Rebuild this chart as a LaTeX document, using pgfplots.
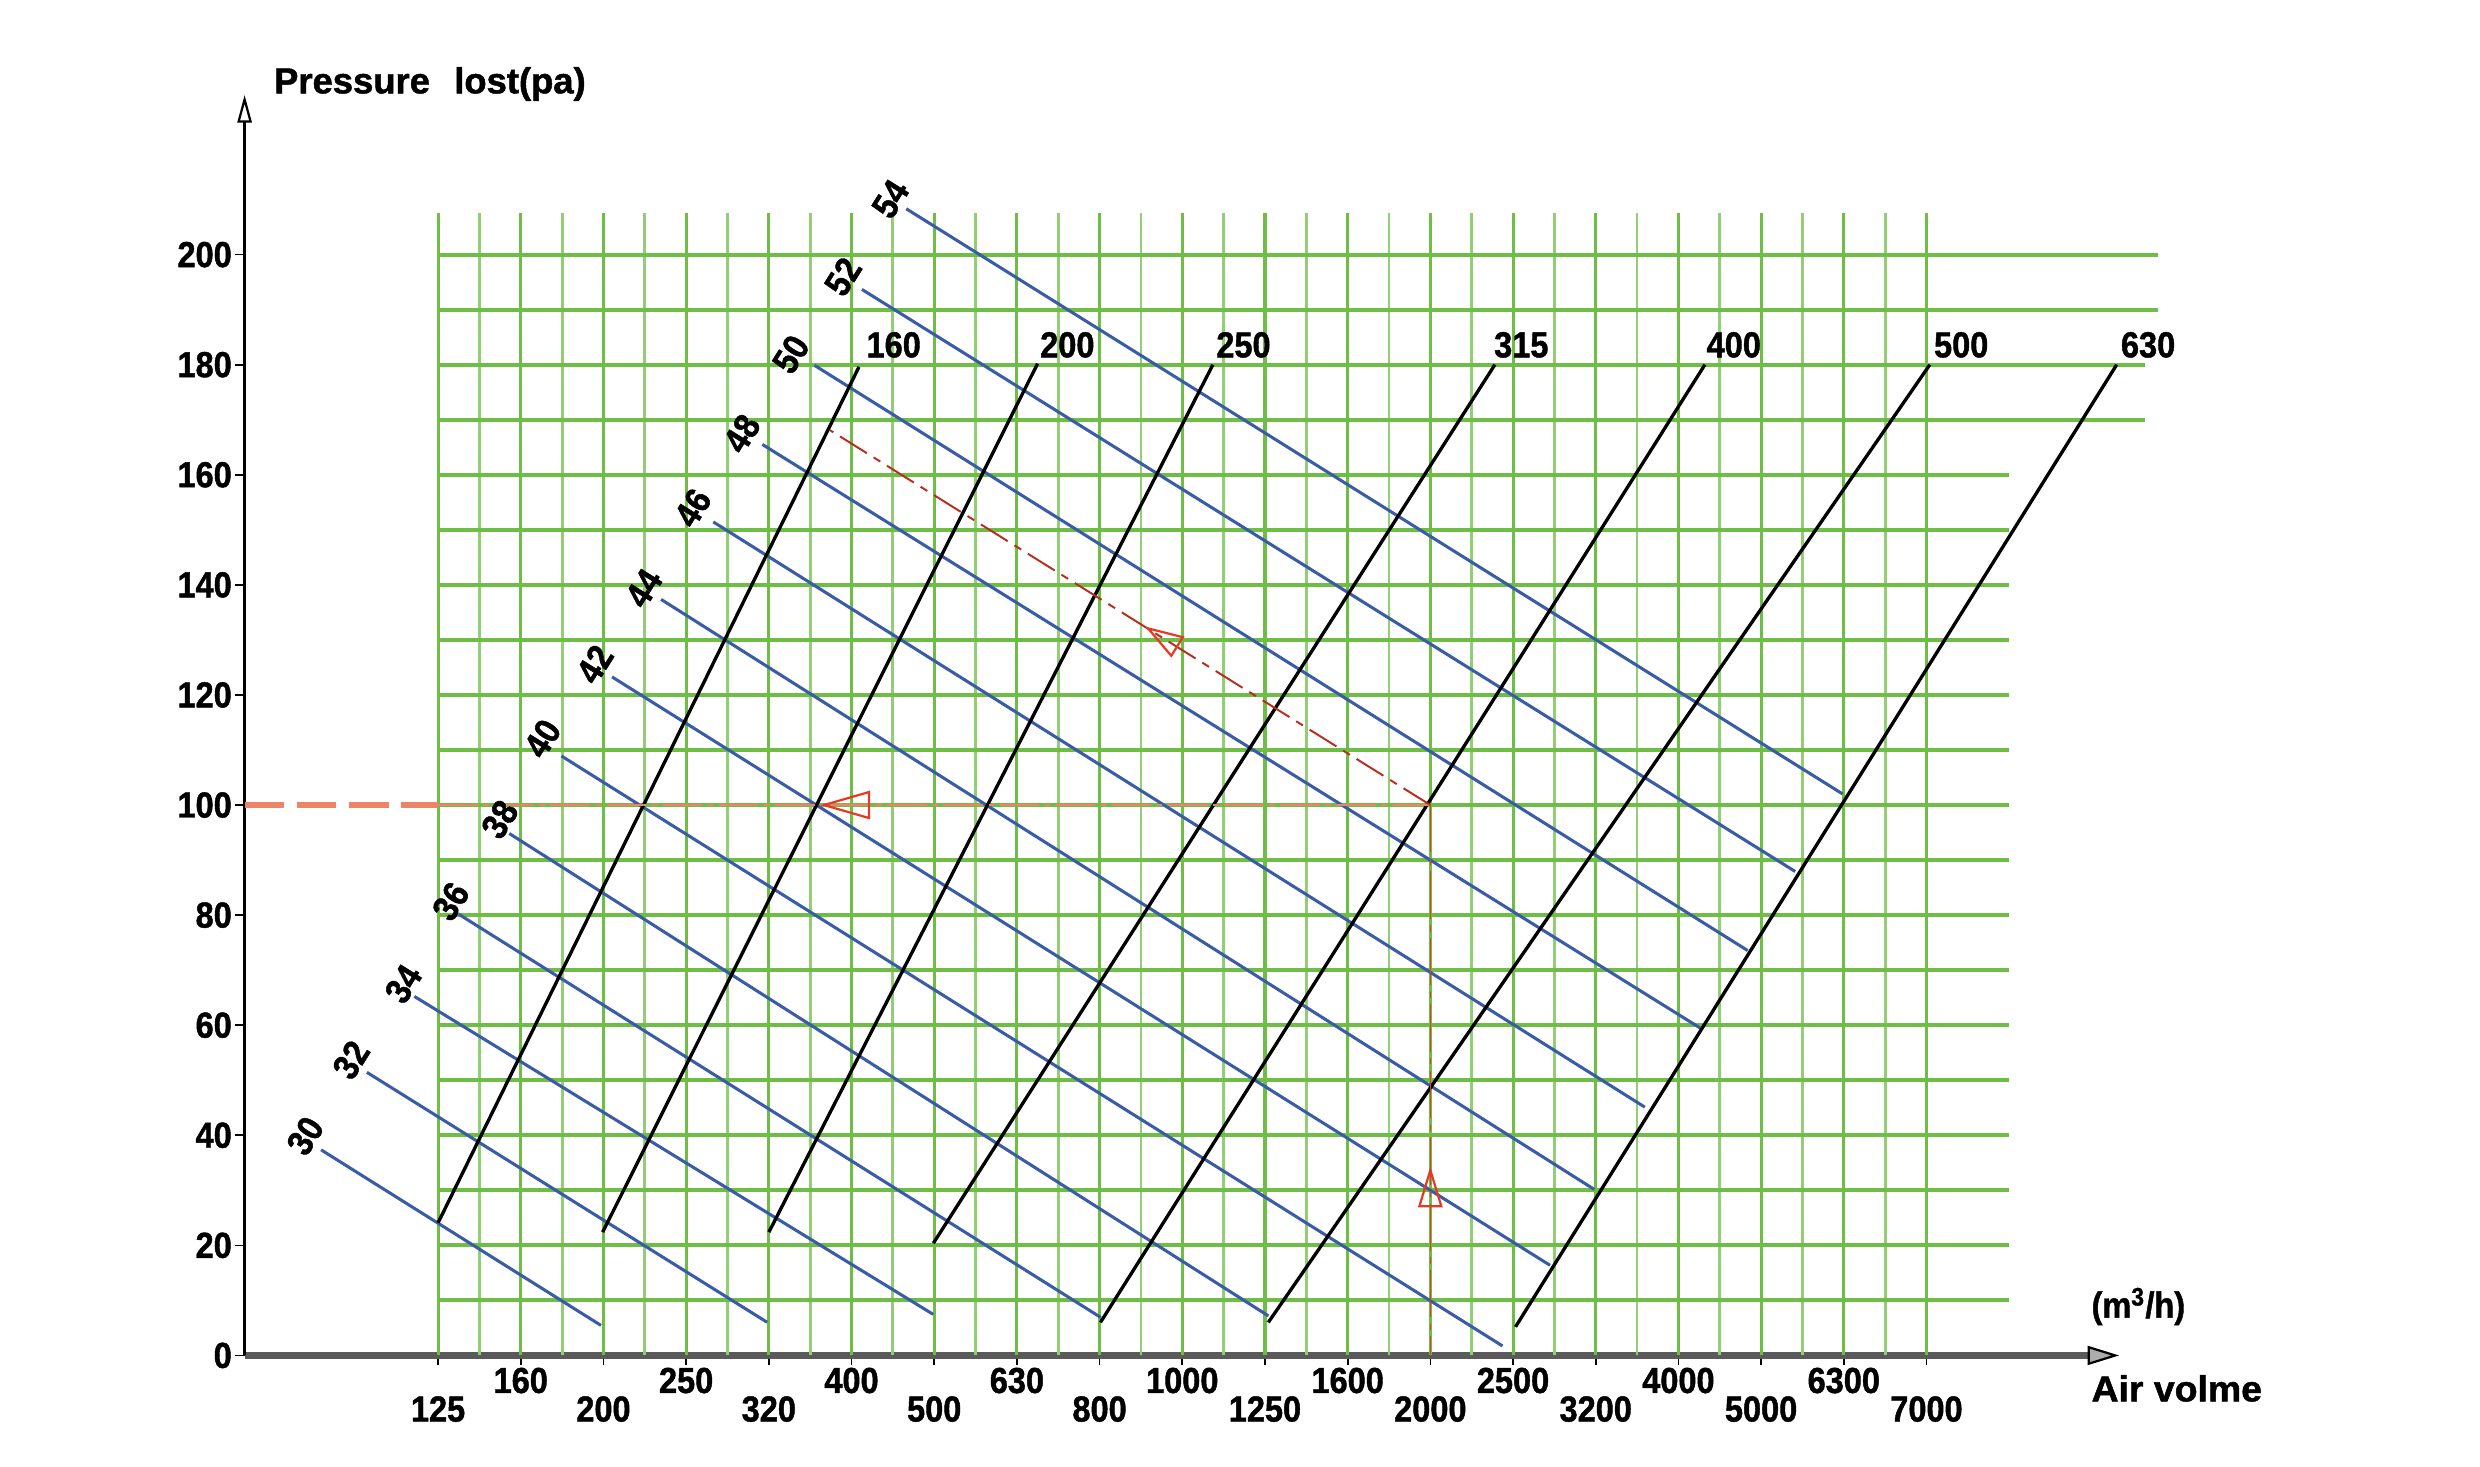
\documentclass[border=0pt]{standalone}
\usepackage{fontspec}
\setmainfont{Liberation Sans}[FakeStretch=0.9, BoldFeatures={FakeBold=1.2}]
\usepackage{pgfplots}
\pgfplotsset{compat=1.18}
\usetikzlibrary{arrows.meta}
\definecolor{gridGreen}{HTML}{6EBE46}
\definecolor{ductBlue}{HTML}{3A5CA6}
\definecolor{pathRed}{HTML}{E53A25}
\definecolor{pathSalmon}{HTML}{EC8468}
\definecolor{axisGrey}{HTML}{5A5A5A}
\newcommand\lab{\bfseries\fontsize{13}{15}\selectfont}
\newcommand\lo[1]{\rule{0pt}{6.8mm}#1}

\begin{document}
\begin{tikzpicture}
\useasboundingbox (-30.93mm,-14mm) rectangle (282.67mm,171.4mm);
\begin{axis}[
  at={(0,0)}, anchor=south west,
  x=10.456mm, y=0.696mm,
  xmin=-2.34, xmax=20.33, ymin=0, ymax=229,
  axis lines=left, enlargelimits=false, clip=false,
  x axis line style={line width=2.2pt, draw=axisGrey,
    -{Triangle[length=4mm, width=2.4mm, fill=axisGrey!50, color=black, line width=0.8pt]}},
  y axis line style={line width=0.8pt, draw=black,
    -{Triangle[open, length=3.5mm, width=1.8mm, line width=0.8pt]}},
  xtick={0,...,18},
  xticklabels={\lo{125},160,\lo{200},250,\lo{320},400,\lo{500},630,\lo{800},1000,
               \lo{1250},1600,\lo{2000},2500,\lo{3200},4000,\lo{5000},6300,\lo{7000}},
  ytick={0,20,...,200},
  tick align=outside, major tick length=1.2mm,
  tick style={black, line width=0.6pt},
  tick label style={font=\lab},
  /pgf/number format/assume math mode=true,
  yticklabel style={inner xsep=1pt},
  xticklabel style={inner ysep=0.8pt},
]
% grid
\pgfplotsinvokeforeach{0,1,...,18}{
  \addplot[gridGreen, line width=1.1pt] coordinates {(#1,0) (#1,207.5)};
}
\pgfplotsinvokeforeach{0.5,1.5,...,17.5}{
  \addplot[gridGreen!75, line width=1.0pt] coordinates {(#1,0) (#1,207.5)};
}
\pgfplotsinvokeforeach{10,20,...,160}{
  \addplot[gridGreen, line width=1.4pt] coordinates {(0,#1) (19,#1)};
}
\addplot[gridGreen, line width=1.4pt] coordinates {(0,170) (20.64,170)};
\addplot[gridGreen, line width=1.4pt] coordinates {(0,180) (20.64,180)};
\addplot[gridGreen, line width=1.4pt] coordinates {(0,190) (20.8,190)};
\addplot[gridGreen, line width=1.4pt] coordinates {(0,200) (20.8,200)};

% blue lines
\addplot[ductBlue, line width=1.1pt] coordinates {(-1.415,37.36) (1.970,5.46)};
\addplot[ductBlue, line width=1.1pt] coordinates {(-0.861,51.44) (3.979,6.03)};
\addplot[ductBlue, line width=1.1pt] coordinates {(-0.287,65.23) (5.987,7.47)};
\addplot[ductBlue, line width=1.1pt] coordinates {(0.249,80.17) (8.015,6.90)};
\addplot[ductBlue, line width=1.1pt] coordinates {(0.861,94.83) (10.042,7.18)};
\addplot[ductBlue, line width=1.1pt] coordinates {(1.492,108.91) (12.873,1.72)};
\addplot[ductBlue, line width=1.1pt] coordinates {(2.104,123.28) (13.447,16.38)};
\addplot[ductBlue, line width=1.1pt] coordinates {(2.697,137.36) (13.982,30.17)};
\addplot[ductBlue, line width=1.1pt] coordinates {(3.328,151.44) (14.594,45.11)};
\addplot[ductBlue, line width=1.1pt] coordinates {(3.921,165.52) (15.264,59.48)};
\addplot[ductBlue, line width=1.1pt] coordinates {(4.552,179.89) (15.838,73.56)};
\addplot[ductBlue, line width=1.1pt] coordinates {(5.126,193.68) (16.412,87.93)};
\addplot[ductBlue, line width=1.1pt] coordinates {(5.662,208.33) (16.986,102.01)};

% black lines
\addplot[black, line width=1.2pt] coordinates {(0,24.1) (5.09,179.6)};
\addplot[black, line width=1.2pt] coordinates {(1.99,22.4) (7.25,180.2)};
\addplot[black, line width=1.2pt] coordinates {(4.0,22.4) (9.37,180)};
\addplot[black, line width=1.2pt] coordinates {(5.99,20.4) (12.78,180)};
\addplot[black, line width=1.2pt] coordinates {(8.01,6) (15.32,180)};
\addplot[black, line width=1.2pt] coordinates {(10.04,6) (18.04,180)};
\addplot[black, line width=1.2pt] coordinates {(13.03,5.2) (20.3,180)};

% example path
\addplot[pathSalmon, line width=2pt, dash pattern=on 5mm off 1.6mm] coordinates {(-2.34,100) (0,100)};
\addplot[pathSalmon, line width=1pt, dash pattern=on 5mm off 0.7mm on 0.7mm off 0.7mm] coordinates {(0,100) (12,100)};
\addplot[pathRed, line width=0.6pt, dash pattern=on 6mm off 0.8mm on 0.8mm off 0.8mm] coordinates {(12,100) (12,0)};
\addplot[pathRed!80!black, line width=0.7pt, dash pattern=on 4mm off 1mm on 1mm off 1mm] coordinates {(12,100) (4.74,168.1)};
\addplot[only marks, pathRed, mark=triangle, mark size=1.9mm,
  mark options={rotate=90, yscale=2.0, line width=0.8pt}] coordinates {(5.03,100)};
\addplot[only marks, pathRed, mark=triangle, mark size=1.6mm,
  mark options={yscale=1.9, line width=0.8pt}] coordinates {(12,29.3)};
\addplot[only marks, pathRed, mark=triangle, mark size=1.6mm,
  mark options={rotate=58, yscale=1.8, line width=0.8pt}] coordinates {(8.82,129.9)};

% blue line labels
\begin{scope}[every node/.style={font=\lab, rotate=58, inner sep=0pt}]
\node at (axis cs:-1.607,39.9) {30};
\node at (axis cs:-1.052,53.7) {32};
\node at (axis cs:-0.421,67.5) {34};
\node at (axis cs:0.153,82.5) {36};
\node at (axis cs:0.746,97.4) {38};
\node at (axis cs:1.262,112.1) {40};
\node at (axis cs:1.894,125.6) {42};
\node at (axis cs:2.487,139.4) {44};
\node at (axis cs:3.080,154.0) {46};
\node at (axis cs:3.673,167.5) {48};
\node at (axis cs:4.266,181.9) {50};
\node at (axis cs:4.897,196.0) {52};
\node at (axis cs:5.471,210.1) {54};
\end{scope}

% black line labels
\begin{scope}[every node/.style={font=\lab, inner sep=0pt}]
\node at (axis cs:5.51,183.6) {160};
\node at (axis cs:7.61,183.6) {200};
\node at (axis cs:9.74,183.6) {250};
\node at (axis cs:13.10,183.6) {315};
\node at (axis cs:15.67,183.6) {400};
\node at (axis cs:18.42,183.6) {500};
\node at (axis cs:20.68,183.6) {630};
\end{scope}

% axis titles
\node[font=\lab, anchor=west, inner sep=0pt] at (axis cs:-1.99,231)
  {\scalebox{1.12}[1]{Pressure\hspace{0.6em}lost(pa)}};
\node[font=\lab, anchor=west, inner sep=0pt] at (axis cs:19.99,8.9) {(m\textsuperscript{3}/h)};
\node[font=\lab, anchor=west, inner sep=0pt] at (axis cs:19.99,-6.0)
  {\scalebox{1.15}[1]{Air volme}};
\end{axis}
\end{tikzpicture}
\end{document}
